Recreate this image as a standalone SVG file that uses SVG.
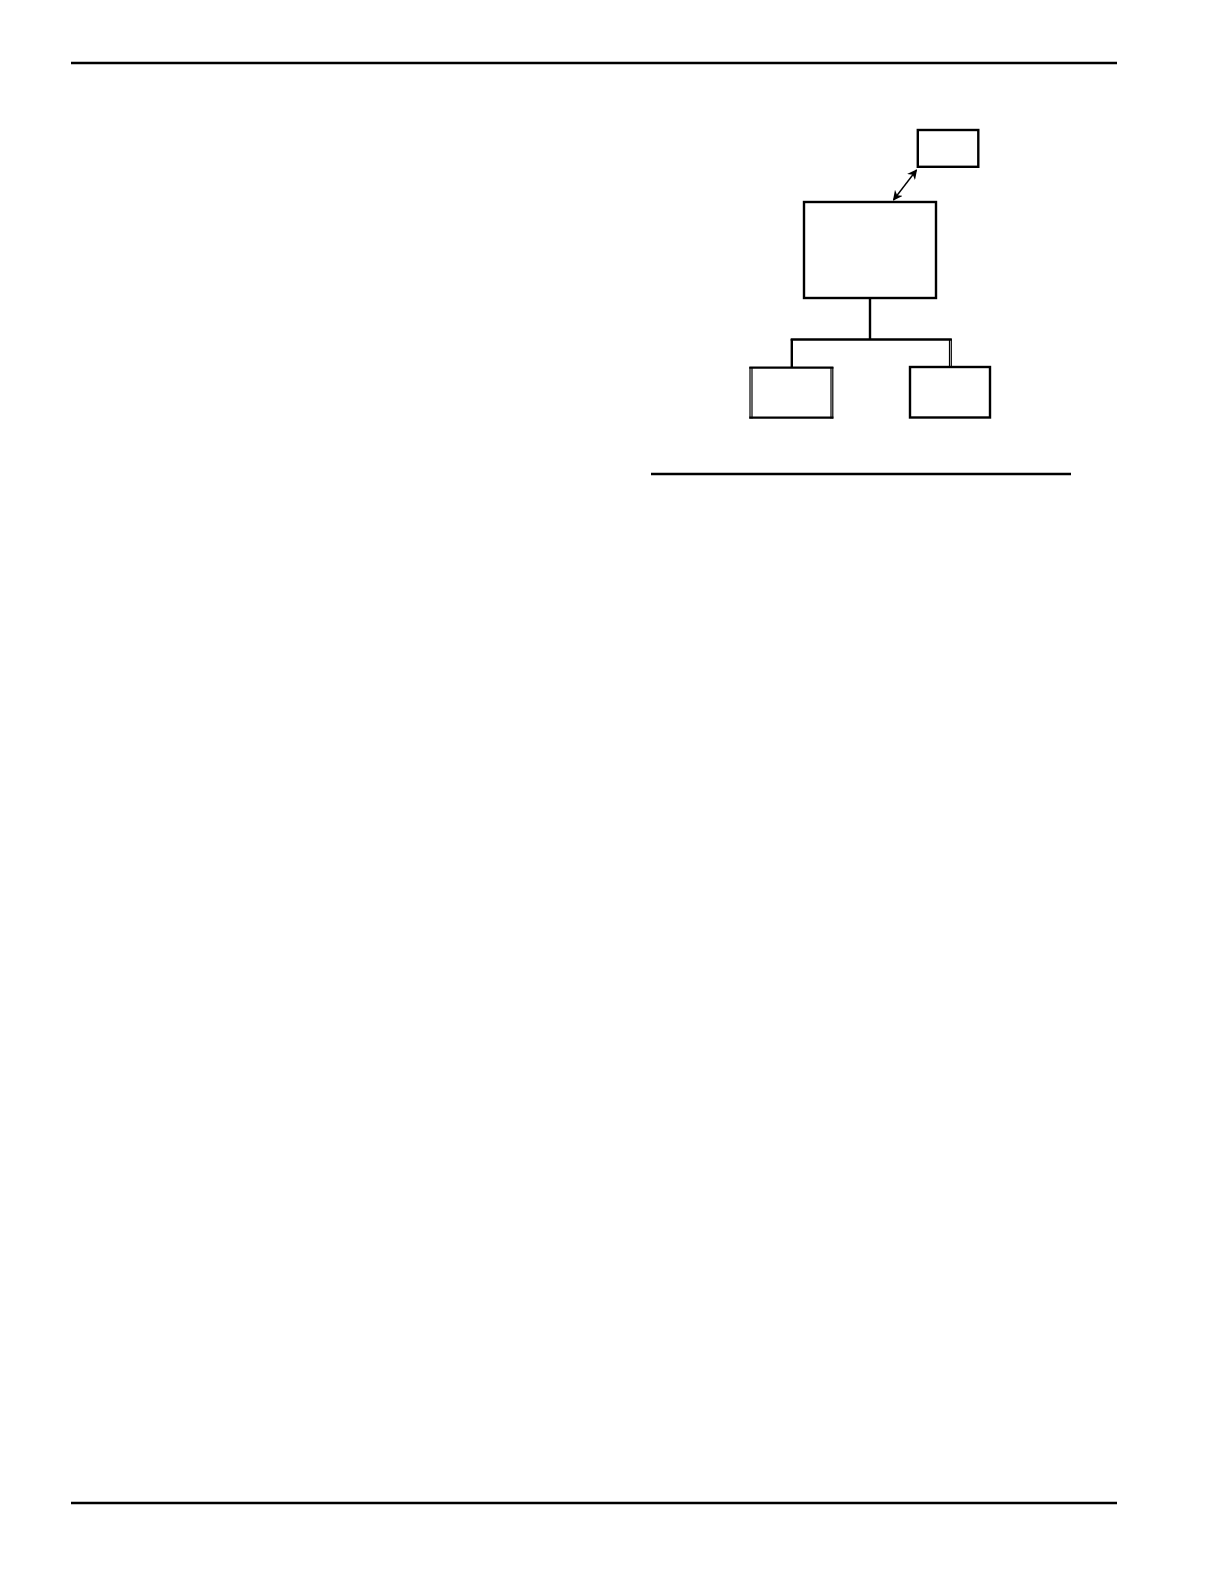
<svg xmlns="http://www.w3.org/2000/svg" width="1224" height="1584" viewBox="0 0 1224 1584">
<defs>
<style>
.box{fill:#fff;stroke:#000;stroke-width:2.4}
.rule{stroke:#000;stroke-width:2.5;fill:none}
.conn{stroke:#000;stroke-width:2.4;fill:none}
.thin{stroke:#000;stroke-width:1.2;fill:none}
</style>
<marker id="ah" viewBox="0 0 10 10" refX="9" refY="5" markerWidth="10" markerHeight="10" markerUnits="userSpaceOnUse" orient="auto-start-reverse">
<path d="M0,0 L10,5 L0,10 L3,5 Z" fill="#000"/>
</marker>
</defs>
<rect width="1224" height="1584" fill="#fff"/>
<g id="rules">
<line class="rule" x1="71" y1="63" x2="1117" y2="63"/>
<line class="rule" x1="651" y1="474" x2="1071" y2="474"/>
<line class="rule" x1="71" y1="1503" x2="1117" y2="1503"/>
</g>
<g id="connectors">
<line x1="916.5" y1="170" x2="893.5" y2="200" stroke="#000" stroke-width="1.4" marker-start="url(#ah)" marker-end="url(#ah)"/>
<line class="conn" x1="870" y1="299" x2="870" y2="339.5"/>
<line class="conn" x1="790.7" y1="339.5" x2="951.8" y2="339.5"/>
<line class="conn" x1="791.8" y1="339" x2="791.8" y2="367"/>
<line class="thin" x1="949.5" y1="339" x2="949.5" y2="366.5"/>
<line class="thin" x1="951.3" y1="339" x2="951.3" y2="366.5"/>
</g>
<g id="node-top">
<rect class="box" x="917.8" y="130" width="60.5" height="36.8"/>
</g>
<g id="node-main">
<rect class="box" x="804" y="202" width="132" height="96"/>
</g>
<g id="node-left">
<line class="conn" x1="749.3" y1="367.6" x2="833.4" y2="367.6"/>
<line class="conn" x1="749.3" y1="417.6" x2="833.4" y2="417.6"/>
<line class="thin" x1="750" y1="367" x2="750" y2="418.6"/>
<line class="thin" x1="752" y1="367" x2="752" y2="418.6"/>
<line class="thin" x1="831" y1="367" x2="831" y2="418.6"/>
<line class="thin" x1="832.8" y1="367" x2="832.8" y2="418.6"/>
</g>
<g id="node-right">
<rect class="box" x="910" y="367" width="80" height="50.5"/>
</g>
</svg>
